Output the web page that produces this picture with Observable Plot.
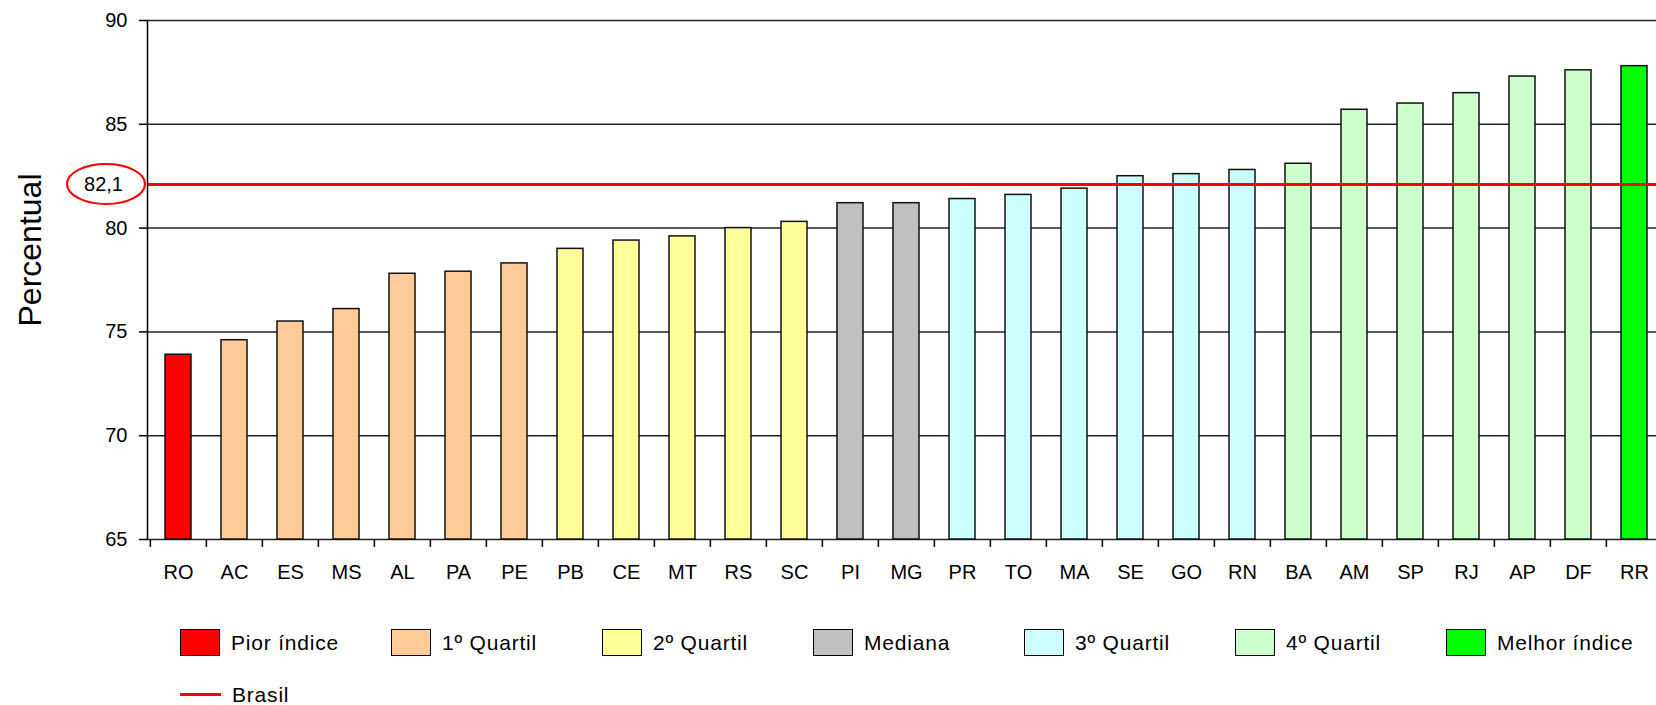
<!DOCTYPE html>
<html>
<head>
<meta charset="utf-8">
<script src="https://cdn.jsdelivr.net/npm/d3@7"></script>
<script src="https://cdn.jsdelivr.net/npm/@observablehq/plot@0.6"></script>
<style>
  html, body { margin: 0; padding: 0; background: #fff; overflow: hidden; }
  #wrap { position: relative; width: 1656px; height: 705px; font-family: "Liberation Sans", Arial, sans-serif; }
  .legend { position: absolute; left: 0; top: 0; width: 1656px; height: 705px; pointer-events: none; }
  .item { position: absolute; display: flex; align-items: center; font-size: 21px; letter-spacing: 0.8px; color: #000; }
  .item.tight { line-height: 19px; height: 19px; }
  .sw { width: 38px; height: 25px; border: 1.5px solid #000; margin-right: 11px; }
  .ln { width: 41px; height: 3px; background: #ff0000; margin-right: 11px; }
</style>
</head>
<body>
<div id="wrap"></div>
<script>
// States ordered from the lowest to the highest percentage
const states = ["RO","AC","ES","MS","AL","PA","PE","PB","CE","MT","RS","SC","PI","MG","PR","TO","MA","SE","GO","RN","BA","AM","SP","RJ","AP","DF","RR"];
const percent = [73.9,74.6,75.5,76.1,77.8,77.9,78.3,79.0,79.4,79.6,80.0,80.3,81.2,81.2,81.4,81.6,81.9,82.5,82.6,82.8,83.1,85.7,86.0,86.5,87.3,87.6,87.8];
const groups = [
  "Pior índice",
  "1º Quartil","1º Quartil","1º Quartil","1º Quartil","1º Quartil","1º Quartil",
  "2º Quartil","2º Quartil","2º Quartil","2º Quartil","2º Quartil",
  "Mediana","Mediana",
  "3º Quartil","3º Quartil","3º Quartil","3º Quartil","3º Quartil","3º Quartil",
  "4º Quartil","4º Quartil","4º Quartil","4º Quartil","4º Quartil","4º Quartil",
  "Melhor índice"
];
const groupNames = ["Pior índice","1º Quartil","2º Quartil","Mediana","3º Quartil","4º Quartil","Melhor índice"];
const groupColors = ["#ff0000","#ffcc99","#ffff99","#c0c0c0","#ccffff","#ccffcc","#00ff00"];
const brasil = 82.1;
const yTicks = [65, 70, 75, 80, 85, 90];

const rows = states.map((s, i) => ({state: s, value: percent[i], group: groups[i]}));

const xRange = [147, 1666];
const step = (xRange[1] - xRange[0]) / states.length;

const plot = Plot.plot({
  width: 1656,
  height: 600,
  marginLeft: 147,
  marginRight: 0,
  marginTop: 20,
  marginBottom: 61,
  style: {fontFamily: "'Liberation Sans', Arial, sans-serif", fontSize: "20px", background: "#fff", overflow: "visible"},
  x: {domain: states, range: xRange, paddingInner: 0.53, paddingOuter: 0.265},
  y: {domain: [65, 90]},
  color: {domain: groupNames, range: groupColors},
  marks: [
    Plot.ruleY(yTicks, {stroke: "#222", strokeWidth: 1.5}),
    Plot.barY(rows, {x: "state", y1: 65, y2: "value", fill: "group", stroke: "#111", strokeWidth: 1.5}),
    Plot.ruleY([brasil], {stroke: "#ff0000", strokeWidth: 3.2}),
    Plot.frame({anchor: "left", stroke: "#000", strokeWidth: 1.5}),
    Plot.ruleX(states, {x: d => d, dx: -step / 2, y1: 65, y2: 65, insetBottom: -8, stroke: "#000", strokeWidth: 1.5}),
    Plot.axisY({ticks: yTicks, tickSize: 8, tickPadding: 12, tickFormat: d => String(d), label: null, strokeWidth: 1.5}),
    Plot.axisX({tickSize: 0, tickPadding: 25, label: null}),
    Plot.text(["Percentual"], {frameAnchor: "left", dx: -117, dy: -30, rotate: -90, fontSize: 32, textAnchor: "middle"}),
    Plot.text([brasil], {y: d => d, frameAnchor: "left", dx: -44, text: d => String(d).replace(".", ","), textAnchor: "middle"})
  ]
});

// Oval around the national value label
const yb = plot.scale("y").apply(brasil);
d3.select(plot).append("ellipse")
  .attr("cx", 106).attr("cy", yb).attr("rx", 39).attr("ry", 20)
  .attr("fill", "none").attr("stroke", "#ff0000").attr("stroke-width", 2.2);

const wrap = document.getElementById("wrap");
wrap.appendChild(plot);

// Legend below the chart
const legend = document.createElement("div");
legend.className = "legend";
groupNames.forEach((name, i) => {
  const item = document.createElement("div");
  item.className = "item";
  item.style.left = (180 + i * 211) + "px";
  item.style.top = "629px";
  item.innerHTML = `<span class="sw" style="background:${groupColors[i]}"></span><span>${name}</span>`;
  legend.appendChild(item);
});
const bItem = document.createElement("div");
bItem.className = "item tight";
bItem.style.left = "180px";
bItem.style.top = "685px";
bItem.innerHTML = `<span class="ln"></span><span>Brasil</span>`;
legend.appendChild(bItem);
wrap.appendChild(legend);
</script>
</body>
</html>
